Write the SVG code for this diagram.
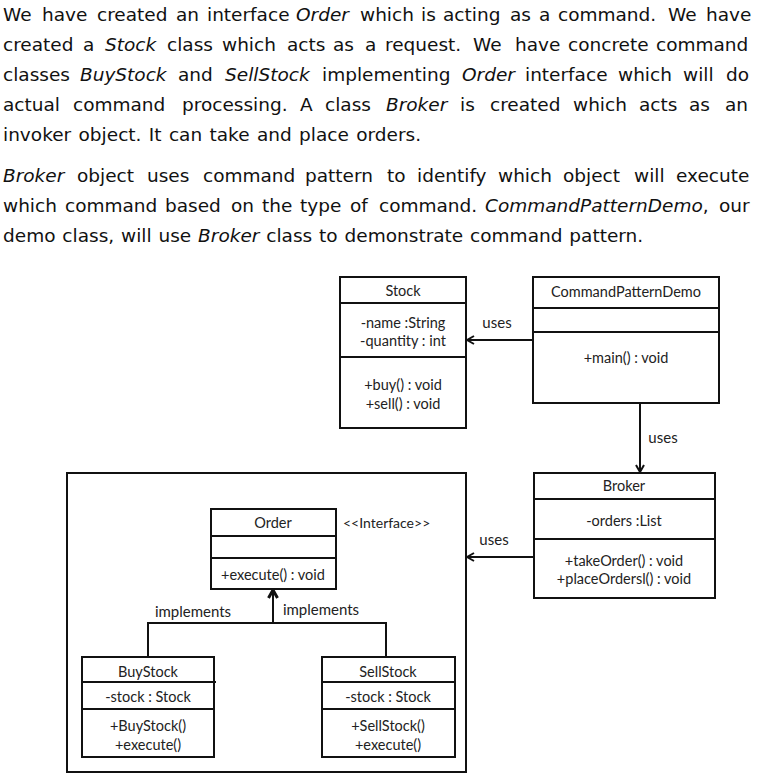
<svg xmlns="http://www.w3.org/2000/svg" width="761" height="776" viewBox="0 0 761 776">
<style>
.p{font-family:"DejaVu Sans","Verdana",sans-serif;font-size:18.5px;fill:#111}
.i{font-style:italic}
.t{font-family:Lato,"Liberation Sans",sans-serif;font-size:14.5px;fill:#222;text-anchor:middle}
.box{fill:#fff;stroke:#111;stroke-width:2}
.ln{stroke:#111;stroke-width:2;fill:none}
.lbl{font-family:Lato,"Liberation Sans",sans-serif;font-size:15px;fill:#222;text-anchor:middle}
</style>
<defs>
<marker id="open" viewBox="0 0 10 10" refX="9" refY="5" markerWidth="10" markerHeight="10" markerUnits="userSpaceOnUse" orient="auto">
<path d="M2,1 L9,5 L2,9" fill="none" stroke="#111" stroke-width="2"/>
</marker>
<marker id="bold" viewBox="0 0 12 12" refX="11" refY="6" markerWidth="12" markerHeight="12" markerUnits="userSpaceOnUse" orient="auto">
<path d="M3,1.5 L11,6 L3,10.5" fill="none" stroke="#111" stroke-width="3"/>
</marker>
</defs>
<rect width="761" height="776" fill="#fff"/>
<g id="intro">
<text class="p" y="20.5"><tspan x="3">We</tspan><tspan x="42">have</tspan><tspan x="97">created</tspan><tspan x="176">an</tspan><tspan x="207">interface</tspan><tspan x="296" class="i">Order</tspan><tspan x="360">which</tspan><tspan x="421">is</tspan><tspan x="443">acting</tspan><tspan x="510">as</tspan><tspan x="539">a</tspan><tspan x="558">command.</tspan><tspan x="668">We</tspan><tspan x="706">have</tspan></text>
<text class="p" y="50.5"><tspan x="3">created</tspan><tspan x="83">a</tspan><tspan x="105" class="i">Stock</tspan><tspan x="167">class</tspan><tspan x="222">which</tspan><tspan x="287">acts</tspan><tspan x="333">as</tspan><tspan x="365">a</tspan><tspan x="385">request.</tspan><tspan x="473">We</tspan><tspan x="515">have</tspan><tspan x="568">concrete</tspan><tspan x="656">command</tspan></text>
<text class="p" y="80.5"><tspan x="3">classes</tspan><tspan x="80" class="i">BuyStock</tspan><tspan x="178">and</tspan><tspan x="225" class="i">SellStock</tspan><tspan x="322">implementing</tspan><tspan x="462" class="i">Order</tspan><tspan x="525">interface</tspan><tspan x="618">which</tspan><tspan x="683">will</tspan><tspan x="726">do</tspan></text>
<text class="p" y="110.5"><tspan x="3">actual</tspan><tspan x="73">command</tspan><tspan x="182">processing.</tspan><tspan x="300">A</tspan><tspan x="325">class</tspan><tspan x="386" class="i">Broker</tspan><tspan x="460">is</tspan><tspan x="490">created</tspan><tspan x="573">which</tspan><tspan x="639">acts</tspan><tspan x="689">as</tspan><tspan x="725">an</tspan></text>
<text class="p" x="3" y="140.5" style="word-spacing:1.5px">invoker object. It can take and place orders.</text>
<text class="p" y="181.5"><tspan x="3" class="i">Broker</tspan><tspan x="77">object</tspan><tspan x="147">uses</tspan><tspan x="203">command</tspan><tspan x="305">pattern</tspan><tspan x="387">to</tspan><tspan x="417">identify</tspan><tspan x="498">which</tspan><tspan x="563">object</tspan><tspan x="634">will</tspan><tspan x="676">execute</tspan></text>
<text class="p" y="211.5"><tspan x="3">which</tspan><tspan x="65">command</tspan><tspan x="165">based</tspan><tspan x="231">on</tspan><tspan x="262">the</tspan><tspan x="300">type</tspan><tspan x="350">of</tspan><tspan x="379">command.</tspan><tspan x="485" class="i">CommandPatternDemo</tspan><tspan>,</tspan><tspan x="719">our</tspan></text>
<text class="p" x="3" y="241.5" style="word-spacing:1px">demo class, will use <tspan class="i">Broker</tspan> class to demonstrate command pattern.</text>
</g>
<g id="package">
<rect class="box" x="67" y="473" width="399" height="299"/>
</g>
<g id="stock">
<rect class="box" x="340" y="277" width="126" height="151"/>
<line class="ln" x1="340" y1="303" x2="466" y2="303"/>
<line class="ln" x1="340" y1="357" x2="466" y2="357"/>
<text class="t" x="403" y="296">Stock</text>
<text class="t" x="403" y="328">-name :String</text>
<text class="t" x="403" y="346">-quantity : int</text>
<text class="t" x="403" y="390">+buy() : void</text>
<text class="t" x="403" y="409">+sell() : void</text>
</g>
<g id="commandPatternDemo">
<rect class="box" x="533" y="277" width="186" height="126"/>
<line class="ln" x1="533" y1="308" x2="719" y2="308"/>
<line class="ln" x1="533" y1="332" x2="719" y2="332"/>
<text class="t" x="626" y="297">CommandPatternDemo</text>
<text class="t" x="626" y="363">+main() : void</text>
</g>
<g id="broker">
<rect class="box" x="534" y="473" width="181" height="125"/>
<line class="ln" x1="534" y1="499" x2="715" y2="499"/>
<line class="ln" x1="534" y1="539" x2="715" y2="539"/>
<text class="t" x="624" y="491">Broker</text>
<text class="t" x="624" y="526">-orders :List</text>
<text class="t" x="624" y="566">+takeOrder() : void</text>
<text class="t" x="624" y="584">+placeOrdersl() : void</text>
</g>
<g id="order">
<rect class="box" x="211" y="509" width="125" height="80"/>
<line class="ln" x1="211" y1="536" x2="336" y2="536"/>
<line class="ln" x1="211" y1="558" x2="336" y2="558"/>
<text class="t" x="273" y="528">Order</text>
<text class="t" x="273" y="580">+execute() : void</text>
<text class="t" x="343" y="528" style="text-anchor:start;font-size:14px">&lt;&lt;Interface&gt;&gt;</text>
</g>
<g id="buyStock">
<rect class="box" x="82" y="657" width="132" height="100"/>
<line class="ln" x1="82" y1="682" x2="216" y2="682"/>
<line class="ln" x1="82" y1="709" x2="214" y2="709"/>
<text class="t" x="148" y="677">BuyStock</text>
<text class="t" x="148" y="702">-stock : Stock</text>
<text class="t" x="148" y="731">+BuyStock()</text>
<text class="t" x="148" y="750">+execute()</text>
</g>
<g id="sellStock">
<rect class="box" x="322" y="657" width="133" height="100"/>
<line class="ln" x1="322" y1="682" x2="455" y2="682"/>
<line class="ln" x1="322" y1="709" x2="455" y2="709"/>
<text class="t" x="388" y="677">SellStock</text>
<text class="t" x="388" y="702">-stock : Stock</text>
<text class="t" x="388" y="731">+SellStock()</text>
<text class="t" x="388" y="750">+execute()</text>
</g>
<g id="connectors">
<line class="ln" x1="533" y1="340" x2="467" y2="340" marker-end="url(#open)"/>
<text class="lbl" x="497" y="328">uses</text>
<line class="ln" x1="640" y1="403" x2="640" y2="472" marker-end="url(#open)"/>
<text class="lbl" x="663" y="443">uses</text>
<line class="ln" x1="534" y1="557" x2="467" y2="557" marker-end="url(#open)"/>
<text class="lbl" x="494" y="545">uses</text>
<polyline class="ln" points="148,657 148,623 386,623 386,657"/>
<line class="ln" x1="273" y1="623" x2="273" y2="590" marker-end="url(#bold)"/>
<text class="lbl" x="193" y="617">implements</text>
<text class="lbl" x="321" y="615">implements</text>
</g>
</svg>
